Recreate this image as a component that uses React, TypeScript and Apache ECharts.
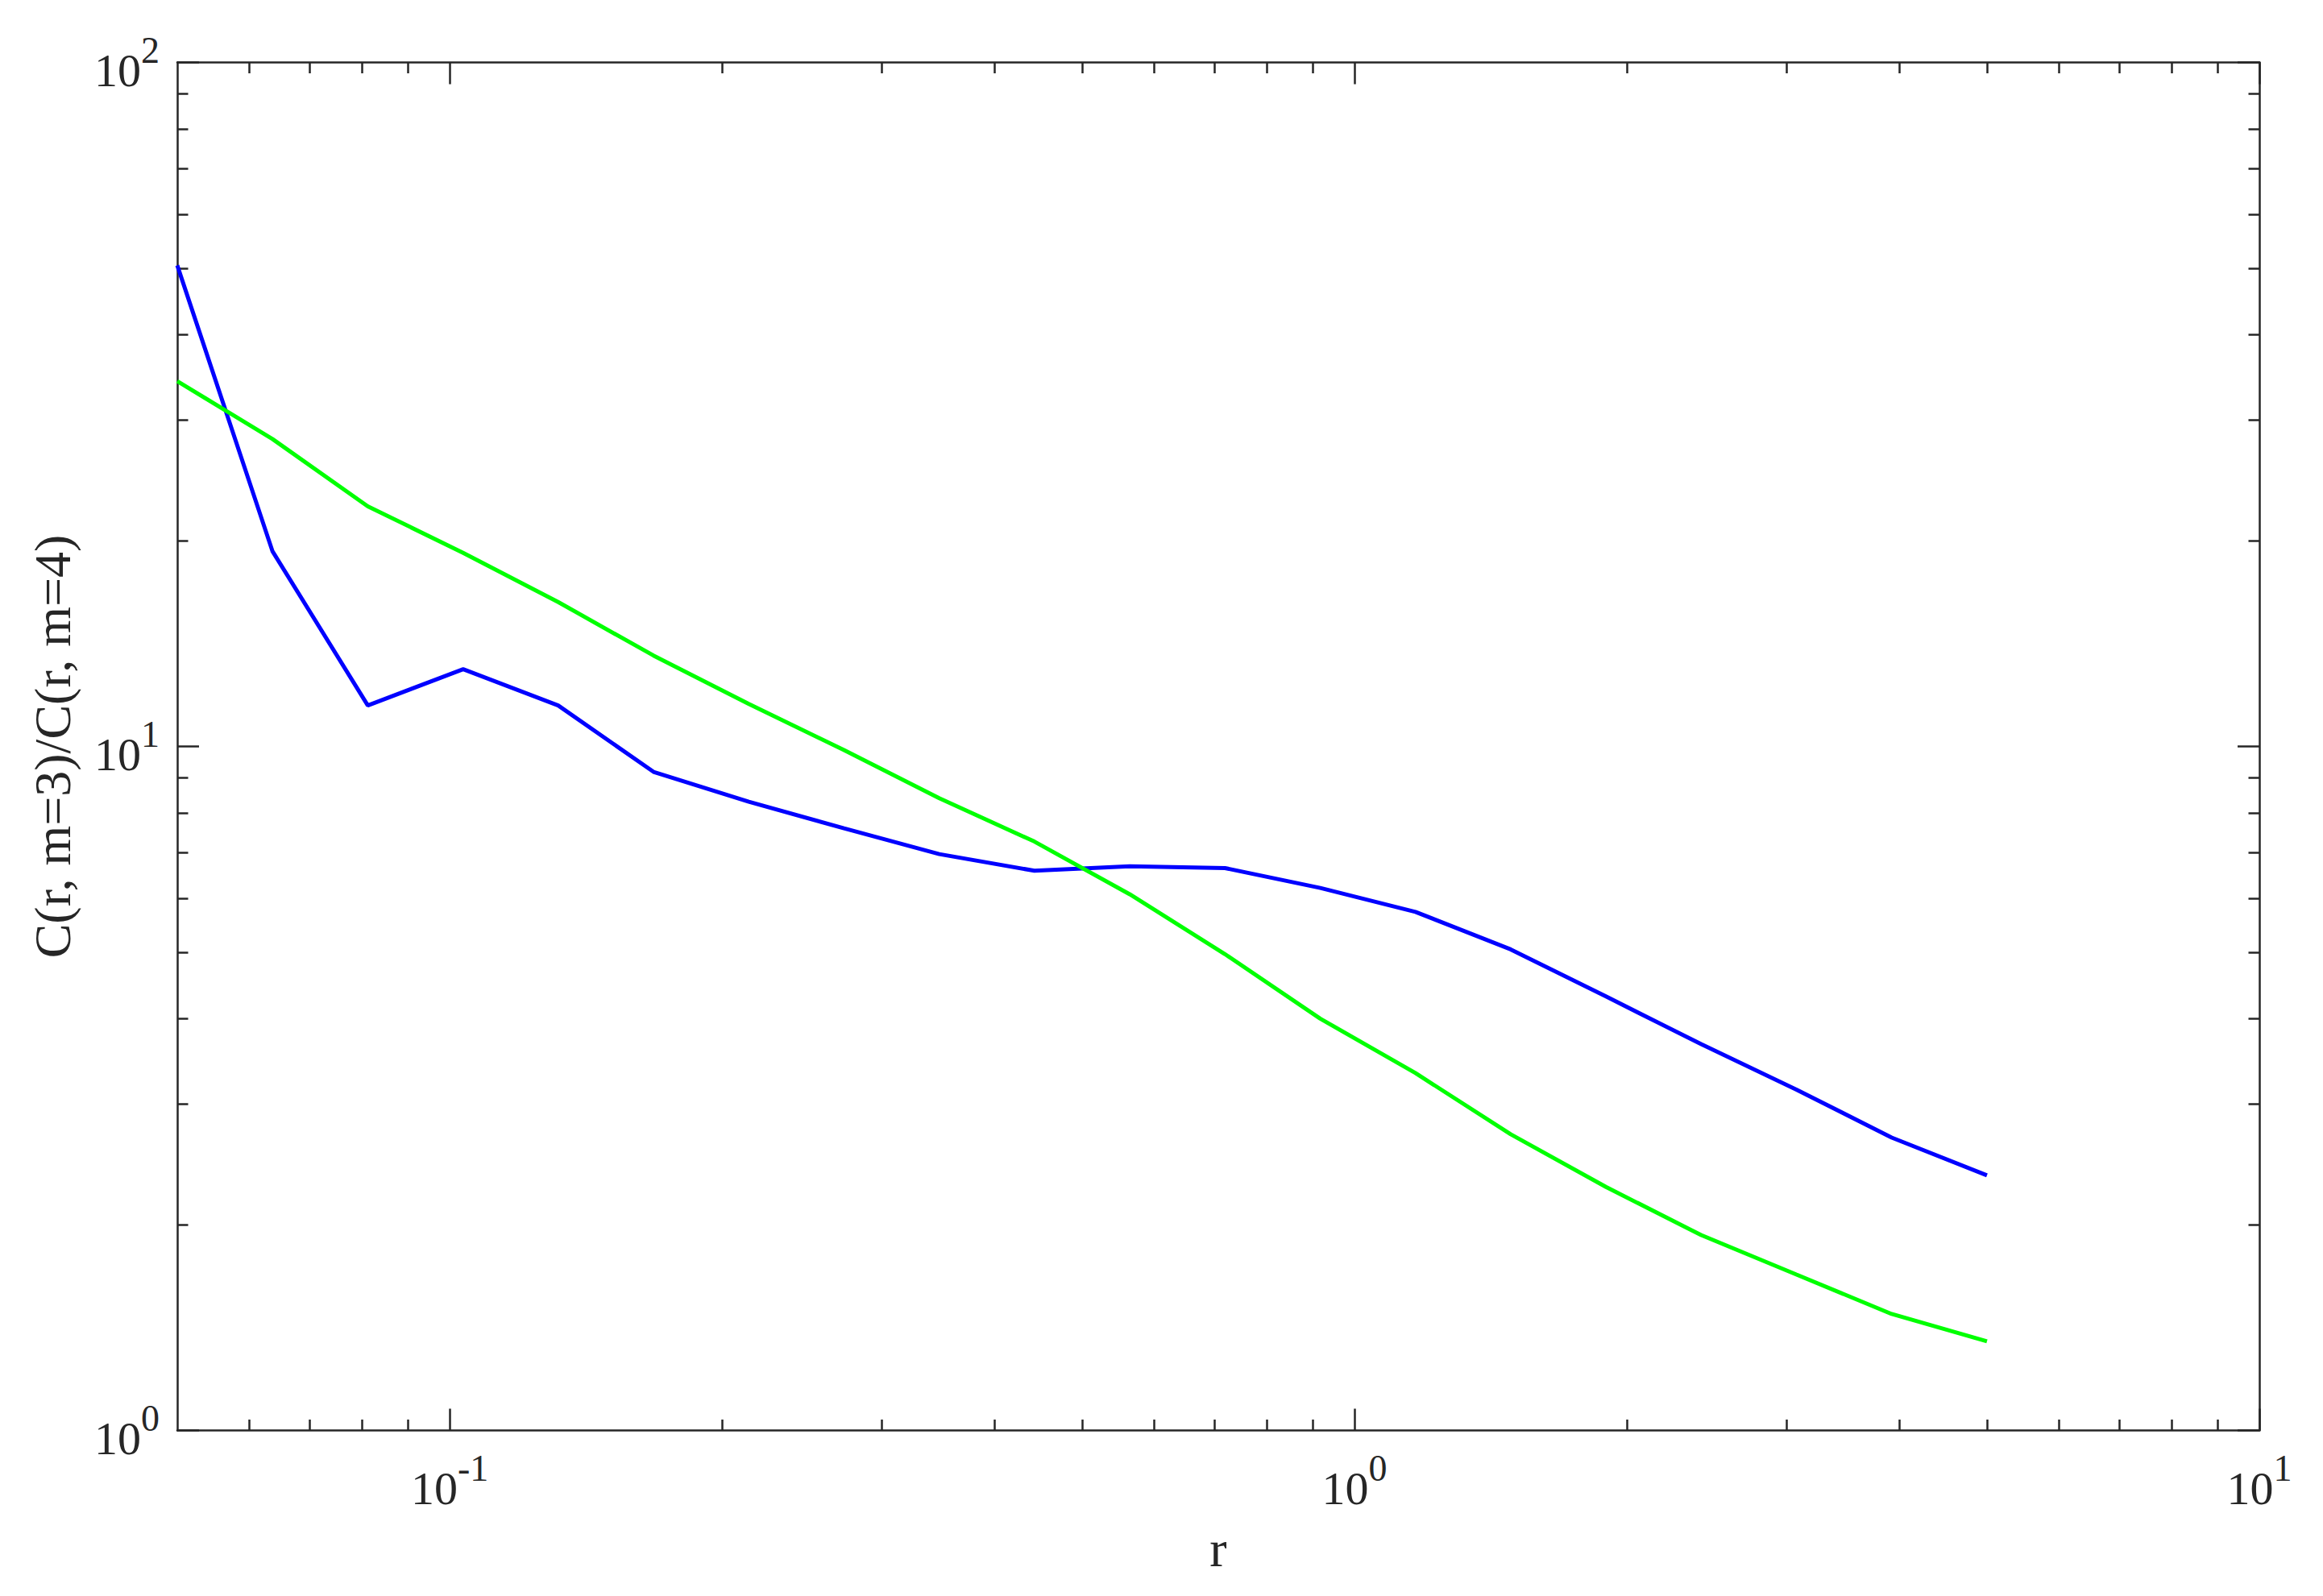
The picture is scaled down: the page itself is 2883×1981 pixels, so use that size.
import React, { useEffect, useRef } from 'react';
import * as echarts from 'echarts';

// r values (log-spaced sample points)
const rValues = [
  0.05, 0.0637, 0.0812, 0.1035, 0.1318, 0.168, 0.2141, 0.2728, 0.3476, 0.4429,
  0.5644, 0.7192, 0.9165, 1.1678, 1.4881, 1.8963, 2.4164, 3.0791, 3.9236, 5.0,
];

// blue curve
const blueValues = [
  50.5, 19.3, 11.48, 12.97, 11.48, 9.18, 8.3, 7.59, 6.96, 6.58,
  6.68, 6.64, 6.21, 5.73, 5.05, 4.31, 3.67, 3.15, 2.68, 2.36,
];

// green curve
const greenValues = [
  34.2, 28.15, 22.44, 19.19, 16.26, 13.58, 11.54, 9.88, 8.4, 7.26,
  6.08, 4.97, 4.0, 3.33, 2.71, 2.27, 1.93, 1.69, 1.48, 1.35,
];

const xMajorTicks = [0.1, 1, 10];
const xMinorTicks = [
  0.06, 0.07, 0.08, 0.09,
  0.2, 0.3, 0.4, 0.5, 0.6, 0.7, 0.8, 0.9,
  2, 3, 4, 5, 6, 7, 8, 9,
];
const yMajorTicks = [1, 10, 100];
const yMinorTicks = [
  2, 3, 4, 5, 6, 7, 8, 9,
  20, 30, 40, 50, 60, 70, 80, 90,
];

const X_MIN = 0.05;
const X_MAX = 10;
const Y_MIN = 1;
const Y_MAX = 100;

const FONT = 'Liberation Serif';
const INK = '#262626';

const powLabel = (v: number) => `{b|10}{s|${Math.round(Math.log10(v))}}`;

const rich = {
  b: { fontFamily: FONT, fontSize: 58, lineHeight: 96, color: INK },
  s: { fontFamily: FONT, fontSize: 46, lineHeight: 46, color: INK, verticalAlign: 'top' },
};

function makeX(position: 'top' | 'bottom', ticks: number[], len: number, withLine: boolean, withLabel: boolean) {
  return {
    type: 'log',
    logBase: 10,
    min: X_MIN,
    max: X_MAX,
    position,
    gridIndex: 0,
    axisLine: { show: withLine, onZero: false, lineStyle: { color: INK, width: 2.5 } },
    axisTick: { show: true, inside: true, length: len, customValues: ticks, lineStyle: { color: INK, width: 2.5 } },
    axisLabel: withLabel
      ? { show: true, customValues: xMajorTicks, formatter: powLabel, margin: 24, rich, color: INK, fontFamily: FONT }
      : { show: false },
    minorTick: { show: false },
    splitLine: { show: false },
    axisPointer: { show: false },
  } as any;
}

function makeY(position: 'left' | 'right', ticks: number[], len: number, withLine: boolean, withLabel: boolean) {
  return {
    type: 'log',
    logBase: 10,
    min: Y_MIN,
    max: Y_MAX,
    position,
    gridIndex: 0,
    axisLine: { show: withLine, onZero: false, lineStyle: { color: INK, width: 2.5 } },
    axisTick: { show: true, inside: true, length: len, customValues: ticks, lineStyle: { color: INK, width: 2.5 } },
    axisLabel: withLabel
      ? { show: true, customValues: yMajorTicks, formatter: powLabel, margin: 22, padding: [19, 0, 0, 0], rich, color: INK, fontFamily: FONT }
      : { show: false },
    minorTick: { show: false },
    splitLine: { show: false },
    axisPointer: { show: false },
  } as any;
}

export default function App() {
  const ref = useRef<HTMLDivElement>(null);

  useEffect(() => {
    document.body.style.margin = '0';
    if (!ref.current) return;
    const chart = echarts.init(ref.current, undefined, { renderer: 'svg' });

    const xMain = makeX('bottom', xMajorTicks, 27, true, true);
    xMain.name = 'r';
    xMain.nameLocation = 'middle';
    xMain.nameGap = 115;
    xMain.nameTextStyle = { fontFamily: FONT, fontSize: 64, color: INK };

    const yMain = makeY('left', yMajorTicks, 27, true, true);
    yMain.name = 'C(r, m=3)/C(r, m=4)';
    yMain.nameLocation = 'middle';
    yMain.nameGap = 123;
    yMain.nameTextStyle = { fontFamily: FONT, fontSize: 64, color: INK };

    const option: any = {
      animation: false,
      backgroundColor: '#ffffff',
      textStyle: { fontFamily: FONT },
      grid: {
        left: 220,
        top: 77.5,
        width: 2584,
        height: 1698,
        containLabel: false,
        outerBoundsMode: 'none',
        show: false,
      },
      xAxis: [
        xMain,
        makeX('bottom', xMinorTicks, 13.5, false, false),
        makeX('top', xMajorTicks, 27, true, false),
        makeX('top', xMinorTicks, 13.5, false, false),
      ],
      yAxis: [
        yMain,
        makeY('left', yMinorTicks, 13.5, false, false),
        makeY('right', yMajorTicks, 27, true, false),
        makeY('right', yMinorTicks, 13.5, false, false),
      ],
      series: [
        {
          name: 'm=3 / m=4 (blue)',
          type: 'line',
          xAxisIndex: 0,
          yAxisIndex: 0,
          data: rValues.map((r, i) => [r, blueValues[i]]),
          showSymbol: false,
          symbol: 'none',
          lineStyle: { color: '#0000ff', width: 5 },
          itemStyle: { color: '#0000ff' },
        },
        {
          name: 'm=3 / m=4 (green)',
          type: 'line',
          xAxisIndex: 0,
          yAxisIndex: 0,
          data: rValues.map((r, i) => [r, greenValues[i]]),
          showSymbol: false,
          symbol: 'none',
          lineStyle: { color: '#00ff00', width: 5 },
          itemStyle: { color: '#00ff00' },
        },
      ],
    };

    chart.setOption(option);
    return () => {
      chart.dispose();
    };
  }, []);

  return <div ref={ref} style={{ width: 2883, height: 1981 }} />;
}
